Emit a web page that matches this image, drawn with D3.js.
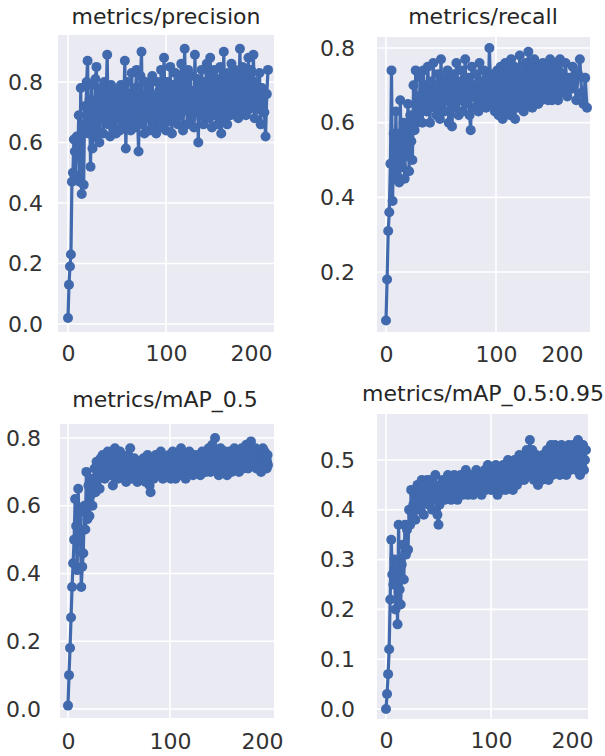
<!DOCTYPE html>
<html>
<head>
<meta charset="utf-8">
<script src="https://cdn.jsdelivr.net/npm/d3@7/dist/d3.min.js"></script>
<style>
  body { margin: 0; background: #fff; }
  svg { display: block; }
  text { font-family: "DejaVu Sans", sans-serif; }
</style>
</head>
<body>
<svg id="chart" width="605" height="756"></svg>
<script>

// values per epoch (epoch = index)
var precision = [
  .02,.13,.19,.23,.47,.50,.61,.57,.49,.62,.58,.69,.47,.78,.43,.63,.46,.72,.66,.80,
  .87,.63,.74,.52,.79,.58,.70,.62,.81,.85,.64,.75,.60,.78,.68,.72,.63,.80,.69,.76,
  .89,.66,.74,.62,.79,.70,.65,.77,.71,.63,.76,.68,.73,.64,.79,.70,.66,.75,.87,.58,
  .72,.80,.67,.76,.64,.83,.70,.74,.65,.78,.84,.69,.57,.76,.82,.90,.66,.72,.63,.80,
  .74,.68,.79,.64,.76,.70,.82,.66,.75,.72,.63,.80,.69,.77,.65,.84,.71,.67,.88,.73,
  .64,.80,.70,.76,.67,.85,.72,.63,.79,.74,.68,.83,.70,.77,.66,.81,.73,.69,.86,.75,
  .64,.80,.91,.71,.78,.66,.84,.74,.70,.82,.68,.77,.73,.65,.89,.76,.70,.81,.60,.75,
  .79,.69,.84,.72,.66,.80,.74,.70,.86,.77,.68,.82,.88,.73,.65,.79,.71,.84,.69,.76,
  .81,.66,.74,.70,.85,.63,.77,.72,.90,.68,.80,.75,.66,.83,.71,.78,.69,.86,.74,.80,
  .70,.84,.76,.72,.82,.68,.79,.91,.74,.70,.85,.77,.72,.83,.69,.80,.75,.88,.71,.78,
  .84,.73,.89,.68,.80,.76,.71,.83,.66,.78,.74,.70,.62,.76,.84
];

var recall = [
  .07,.18,.31,.36,.49,.74,.39,.57,.45,.63,.46,.57,.44,.66,.52,.48,.60,.45,.58,.51,
  .65,.47,.62,.55,.50,.70,.58,.74,.60,.67,.62,.72,.65,.60,.74,.66,.70,.63,.75,.68,
  .60,.71,.66,.76,.64,.69,.62,.73,.67,.61,.77,.65,.70,.63,.72,.68,.74,.60,.66,.71,
  .59,.67,.73,.64,.76,.69,.62,.71,.66,.74,.63,.70,.77,.65,.68,.72,.62,.58,.75,.67,
  .70,.64,.73,.68,.63,.76,.66,.71,.65,.74,.69,.64,.72,.67,.80,.70,.65,.73,.68,.63,
  .71,.66,.74,.69,.62,.72,.67,.75,.64,.70,.61,.73,.68,.65,.76,.70,.63,.72,.67,.74,
  .66,.71,.62,.77,.69,.64,.73,.68,.75,.61,.70,.66,.74,.69,.64,.72,.78,.67,.71,.65,
  .74,.69,.63,.72,.67,.76,.70,.65,.73,.79,.68,.71,.66,.75,.69,.64,.72,.68,.77,.70,
  .66,.73,.69,.75,.65,.71,.68,.74,.70,.66,.72,.76,.69,.67,.73,.70,.75,.68,.72,.66,
  .74,.70,.77,.68,.72,.66,.75,.71,.69,.73,.67,.76,.70,.72,.66,.74,.69,.77,.71,.68,
  .73,.70,.76,.67,.72,.69,.75,.71,.66,.73,.77,.68,.65,.72,.64
];

var map50 = [
  .01,.10,.18,.27,.36,.43,.50,.62,.54,.41,.65,.50,.58,.36,.42,.46,.60,.53,.70,.56,
  .66,.57,.63,.68,.60,.66,.71,.64,.73,.68,.72,.65,.74,.69,.75,.71,.68,.74,.70,.76,
  .72,.69,.75,.71,.66,.73,.77,.70,.74,.68,.72,.76,.71,.69,.74,.70,.73,.67,.71,.75,
  .70,.77,.72,.68,.71,.74,.69,.72,.67,.70,.73,.68,.71,.69,.74,.70,.67,.72,.75,.69,
  .66,.64,.70,.73,.68,.71,.75,.70,.73,.69,.72,.76,.71,.68,.73,.70,.74,.69,.72,.75,
  .71,.68,.73,.76,.70,.72,.68,.74,.71,.75,.69,.73,.77,.71,.74,.70,.72,.68,.75,.71,
  .73,.76,.70,.74,.72,.69,.73,.71,.75,.70,.72,.74,.71,.69,.73,.76,.71,.74,.72,.70,
  .75,.72,.77,.73,.70,.74,.78,.72,.76,.80,.74,.71,.75,.69,.73,.77,.72,.75,.70,.74,
  .76,.72,.69,.74,.71,.76,.73,.70,.75,.72,.77,.73,.71,.76,.74,.70,.75,.72,.77,.73,
  .71,.75,.73,.78,.74,.71,.76,.73,.79,.74,.72,.76,.73,.77,.71,.75,.72,.76,.74,.70,
  .75,.73,.77,.72,.74,.71,.76,.73,.75,.72,.74,.71,.73,.75,.72
];

var map5095 = [
  .00,.03,.07,.12,.22,.34,.27,.25,.30,.20,.28,.17,.37,.24,.21,.29,.33,.26,.37,.31,
  .36,.32,.40,.37,.44,.39,.41,.43,.38,.42,.45,.40,.44,.41,.46,.42,.39,.45,.43,.46,
  .44,.41,.46,.43,.40,.45,.42,.47,.44,.39,.37,.41,.45,.43,.46,.44,.42,.46,.44,.47,
  .43,.45,.42,.46,.44,.47,.43,.45,.42,.46,.44,.47,.45,.43,.46,.44,.48,.45,.43,.46,
  .44,.47,.45,.43,.46,.44,.48,.45,.47,.44,.46,.43,.47,.45,.48,.44,.46,.49,.45,.47,
  .44,.46,.48,.45,.47,.44,.49,.46,.43,.47,.45,.48,.46,.44,.47,.49,.45,.47,.44,.48,
  .46,.50,.47,.45,.48,.46,.49,.44,.47,.50,.46,.48,.45,.49,.47,.51,.48,.46,.50,.47,
  .49,.46,.51,.48,.52,.49,.47,.51,.54,.50,.48,.52,.49,.46,.50,.48,.51,.47,.45,.49,
  .47,.50,.48,.46,.51,.49,.47,.50,.48,.52,.49,.46,.50,.48,.53,.50,.47,.51,.49,.53,
  .50,.48,.52,.49,.51,.47,.50,.53,.49,.51,.48,.52,.50,.47,.51,.49,.53,.50,.48,.52,
  .50,.53,.49,.51,.48,.52,.54,.50,.47,.51,.49,.53,.48,.50,.52
];

// tick values
var xTicks = [0, 100, 200];
var xGridTicks = [0, 100];
var yTicksPrecision = [0, 0.2, 0.4, 0.6, 0.8];
var yTicksRecall = [0.2, 0.4, 0.6, 0.8];
var yTicksMap50 = [0, 0.2, 0.4, 0.6, 0.8];
var yTicksMap5095 = [0, 0.1, 0.2, 0.3, 0.4, 0.5];

var blue = "#4169ae";
var svg = d3.select("#chart");

// layout of the four subplots (box = left, top, right, bottom)
var panels = [
    {title: "metrics/precision", values: precision, yTicks: yTicksPrecision,
     box: [58, 35, 274, 332], xAt: [68, 166, 251, 268], yDom: [0, 0.8], yAt: [324, 82],
     titleX: 166, titleY: 24, yLabelX: 43, xLabelY: 345},
    {title: "metrics/recall", values: recall, yTicks: yTicksRecall,
     box: [377, 37, 590, 332], xAt: [386, 496, 562, 587], yDom: [0.2, 0.8], yAt: [272, 48],
     titleX: 483, titleY: 24, yLabelX: 355, xLabelY: 346},
    {title: "metrics/mAP_0.5", values: map50, yTicks: yTicksMap50,
     box: [60, 424, 274, 718], xAt: [68, 170, 262, 268], yDom: [0, 0.8], yAt: [709, 438],
     titleX: 165, titleY: 407, yLabelX: 41, xLabelY: 733},
    {title: "metrics/mAP_0.5:0.95", values: map5095, yTicks: yTicksMap5095,
     box: [377, 414, 588, 719], xAt: [386, 491, 572, 586], yDom: [0, 0.5], yAt: [709, 460],
     titleX: 483, titleY: 401, yLabelX: 355, xLabelY: 732}
];

/**
 * Draw one subplot.
 */
function drawPanel(p) {
    var last = p.values.length - 1;
    var x = d3.scaleLinear().domain([0, 100, 200, last]).range(p.xAt);
    var y = d3.scaleLinear().domain(p.yDom).range(p.yAt);
    var b = p.box;

    var g = svg.append("g");

    // grey background
    g.append("rect")
        .attr("x", b[0]).attr("y", b[1])
        .attr("width", b[2] - b[0]).attr("height", b[3] - b[1])
        .attr("fill", "#eaeaf2");

    // white grid
    g.selectAll(".hgrid").data(p.yTicks).enter().append("line")
        .attr("x1", b[0]).attr("x2", b[2])
        .attr("y1", d => y(d)).attr("y2", d => y(d))
        .attr("stroke", "#fff").attr("stroke-width", 1.6);
    g.selectAll(".vgrid").data(xGridTicks).enter().append("line")
        .attr("x1", d => x(d)).attr("x2", d => x(d))
        .attr("y1", b[1]).attr("y2", b[3])
        .attr("stroke", "#fff").attr("stroke-width", 1.6);

    // line and markers
    var line = d3.line().x((d, i) => x(i)).y(d => y(d));
    g.append("path")
        .datum(p.values)
        .attr("d", line)
        .attr("fill", "none")
        .attr("stroke", blue)
        .attr("stroke-width", 3.2)
        .attr("stroke-linejoin", "round");
    g.selectAll("circle").data(p.values).enter().append("circle")
        .attr("cx", (d, i) => x(i))
        .attr("cy", d => y(d))
        .attr("r", 5)
        .attr("fill", blue);

    // axes, labels only
    var yAxis = g.append("g")
        .attr("transform", "translate(" + p.yLabelX + ",0)")
        .call(d3.axisLeft(y).tickValues(p.yTicks).tickSize(0).tickPadding(0).tickFormat(d3.format(".1f")));
    yAxis.select(".domain").remove();
    yAxis.selectAll("text").attr("font-size", 22).attr("fill", "#333")
        .style("font-family", "DejaVu Sans");

    var xAxis = g.append("g")
        .attr("transform", "translate(0," + p.xLabelY + ")")
        .call(d3.axisBottom(x).tickValues(xTicks).tickSize(0).tickPadding(0).tickFormat(d3.format("d")));
    xAxis.select(".domain").remove();
    xAxis.selectAll("text").attr("font-size", 22).attr("fill", "#333")
        .style("font-family", "DejaVu Sans");

    // title
    g.append("text")
        .attr("x", p.titleX).attr("y", p.titleY)
        .attr("text-anchor", "middle")
        .attr("font-size", 22)
        .attr("fill", "#262626")
        .text(p.title);
}

panels.forEach(p => drawPanel(p));
</script>
</body>
</html>
